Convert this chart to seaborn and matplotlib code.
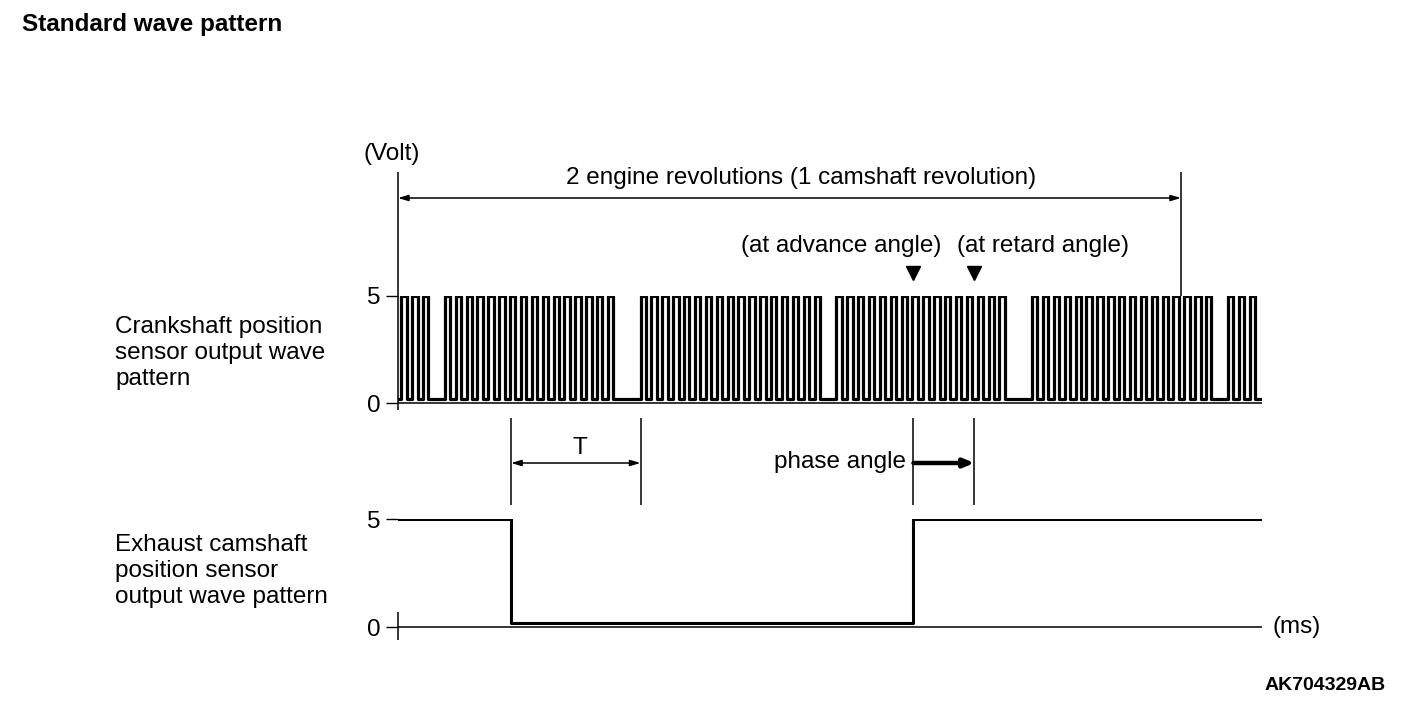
import numpy as np
import pandas as pd
import matplotlib
matplotlib.use("Agg")
import matplotlib.pyplot as plt
import seaborn as sns

# ---------------- data ----------------
# crank wheel: groups of teeth separated by missing teeth (10 deg pitch)
CRANK_GROUP_TEETH = [16, 17]
CRANK_GROUP_MISSING = [2, 1]
TOOTH_PITCH_DEG = 10
TOOTH_HIGH_DEG = 5
FIRST_TOOTH_DEG = 43
CRANK_HIGH = 5.0
CRANK_LOW = 0.18

# exhaust camshaft signal (edges in crank degrees, levels in volt)
CAM_EDGES_DEG = [0, 104, 474]
CAM_LEVELS = [5.0, 0.2, 5.0]

REVOLUTION_SPAN_DEG = 720
T_START_DEG, T_END_DEG = 104, 223
ADVANCE_DEG, RETARD_DEG = 474, 530

Y_TICKS = [0, 5]
Y_TICK_LABELS = ["0", "5"]

TITLE = "Standard wave pattern"
CODE = "AK704329AB"
CRANK_LABEL = "Crankshaft position\nsensor output wave\npattern"
CAM_LABEL = "Exhaust camshaft\nposition sensor\noutput wave pattern"

# ---------------- layout ----------------
W, H = 1408, 710
X0 = 398
PX_PER_DEG = 783 / 720
XMAX = (1262 - X0) / PX_PER_DEG
FS = 17.5

sns.set_style("white")
plt.rcParams["font.family"] = ["Liberation Sans", "DejaVu Sans"]
plt.rcParams["text.color"] = "black"
plt.rcParams["ytick.color"] = "black"
plt.rcParams["ytick.labelcolor"] = "black"

fig = plt.figure(figsize=(W / 100, H / 100), dpi=100)


def deg(px):
    return (px - X0) / PX_PER_DEG


def v1(py):
    return 5 * (403 - py) / 107


def v2(py):
    return 5 * (627 - py) / 108


def fx(px):
    return px / W


def fy(py):
    return 1 - py / H


ax1 = fig.add_axes([X0 / W, (H - 403) / H, (1262 - X0) / W, 107 / H])
ax2 = fig.add_axes([X0 / W, (H - 627) / H, (1262 - X0) / W, 108 / H])

# ---------------- crank waveform ----------------
pattern = []
for n, m in zip(CRANK_GROUP_TEETH, CRANK_GROUP_MISSING):
    pattern += [1] * n + [0] * m
period = len(pattern) * TOOTH_PITCH_DEG
xs, ys = [0.0], [CRANK_LOW]
for rev in range(-2, 3):
    for i, on in enumerate(pattern):
        if not on:
            continue
        r = FIRST_TOOTH_DEG + rev * period + i * TOOTH_PITCH_DEG
        if r >= 0 and r + TOOTH_HIGH_DEG <= XMAX:
            xs += [r, r + TOOTH_HIGH_DEG]
            ys += [CRANK_HIGH, CRANK_LOW]
order = np.argsort(xs, kind="stable")
xs = list(np.array(xs)[order]) + [XMAX]
ys = list(np.array(ys)[order]) + [CRANK_LOW]
crank = pd.DataFrame({"deg": xs, "volt": ys})
sns.lineplot(data=crank, x="deg", y="volt", ax=ax1, drawstyle="steps-post",
             color="black", lw=2.3, estimator=None, sort=False)

# ---------------- cam waveform ----------------
cam = pd.DataFrame({"deg": CAM_EDGES_DEG + [XMAX], "volt": CAM_LEVELS + [CAM_LEVELS[-1]]})
sns.lineplot(data=cam, x="deg", y="volt", ax=ax2, drawstyle="steps-post",
             color="black", lw=2.2, estimator=None, sort=False)

for ax in (ax1, ax2):
    ax.set_xlim(0, XMAX)
    ax.set_ylim(0, 5)
    ax.set_xlabel("")
    ax.set_ylabel("")
    ax.set_xticks([])
    ax.set_yticks(Y_TICKS)
    ax.set_yticklabels(Y_TICK_LABELS, fontsize=FS, color="black")
    ax.tick_params(axis="y", length=8.6, width=1.0, pad=4, left=True, color="black")
    for s in ax.spines.values():
        s.set_visible(False)
    ax.patch.set_alpha(0)

lk = dict(color="black", lw=1.1, clip_on=False, solid_capstyle="butt")
# top axes frame
ax1.plot([0, 0], [v1(172), v1(410)], **lk)
ax1.plot([0, XMAX], [0, 0], **lk)
# bottom axes frame
ax2.plot([0, XMAX], [0, 0], **lk)
ax2.plot([0, 0], [v2(612), v2(640)], **lk)

# revolution dimension
ax1.plot([REVOLUTION_SPAN_DEG] * 2, [v1(172), CRANK_HIGH], **lk)
ax1.annotate("", xy=(0, v1(198)), xytext=(REVOLUTION_SPAN_DEG, v1(198)),
             xycoords="data", annotation_clip=False,
             arrowprops=dict(arrowstyle="<|-|>,head_length=0.6,head_width=0.18",
                             color="black", lw=1.1, shrinkA=0, shrinkB=0))
fig.text(fx(801), fy(178), "2 engine revolutions (1 camshaft revolution)",
         ha="center", va="center", fontsize=FS)
fig.text(fx(392), fy(154), "(Volt)", ha="center", va="center", fontsize=FS)
fig.text(fx(1272), fy(627), "(ms)", ha="left", va="center", fontsize=FS)

# advance / retard markers
ax1.plot([ADVANCE_DEG, RETARD_DEG], [v1(273)] * 2, ls="none", marker="v",
         markersize=10, color="black", clip_on=False)
fig.text(fx(841), fy(246), "(at advance angle)", ha="center", va="center", fontsize=FS)
fig.text(fx(1043), fy(246), "(at retard angle)", ha="center", va="center", fontsize=FS)

# T and phase angle dimensions
for d in (T_START_DEG, T_END_DEG, ADVANCE_DEG, RETARD_DEG):
    ax1.plot([d, d], [v1(418), v1(505)], **lk)
ax1.annotate("", xy=(T_START_DEG, v1(463)), xytext=(T_END_DEG, v1(463)),
             annotation_clip=False,
             arrowprops=dict(arrowstyle="<|-|>,head_length=0.6,head_width=0.18",
                             color="black", lw=1.1, shrinkA=0, shrinkB=0))
fig.text(fx(580), fy(448), "T", ha="center", va="center", fontsize=FS)
ax1.annotate("", xy=(RETARD_DEG, v1(463)), xytext=(ADVANCE_DEG, v1(463)),
             annotation_clip=False,
             arrowprops=dict(arrowstyle="-|>,head_length=0.6,head_width=0.25",
                             color="black", lw=3.2, shrinkA=0, shrinkB=0))
fig.text(fx(906), fy(462), "phase angle", ha="right", va="center", fontsize=FS)

# side labels
fig.text(fx(115), fy(353), CRANK_LABEL, ha="left", va="center", fontsize=FS,
         linespacing=1.22)
fig.text(fx(115), fy(571), CAM_LABEL, ha="left", va="center", fontsize=FS,
         linespacing=1.22)

fig.text(fx(22), fy(25), TITLE, ha="left", va="center", fontsize=FS, fontweight="bold")
fig.text(fx(1386), fy(685), CODE, ha="right", va="center", fontsize=14, fontweight="bold")

fig.savefig("out.png", dpi=100, facecolor="white")
